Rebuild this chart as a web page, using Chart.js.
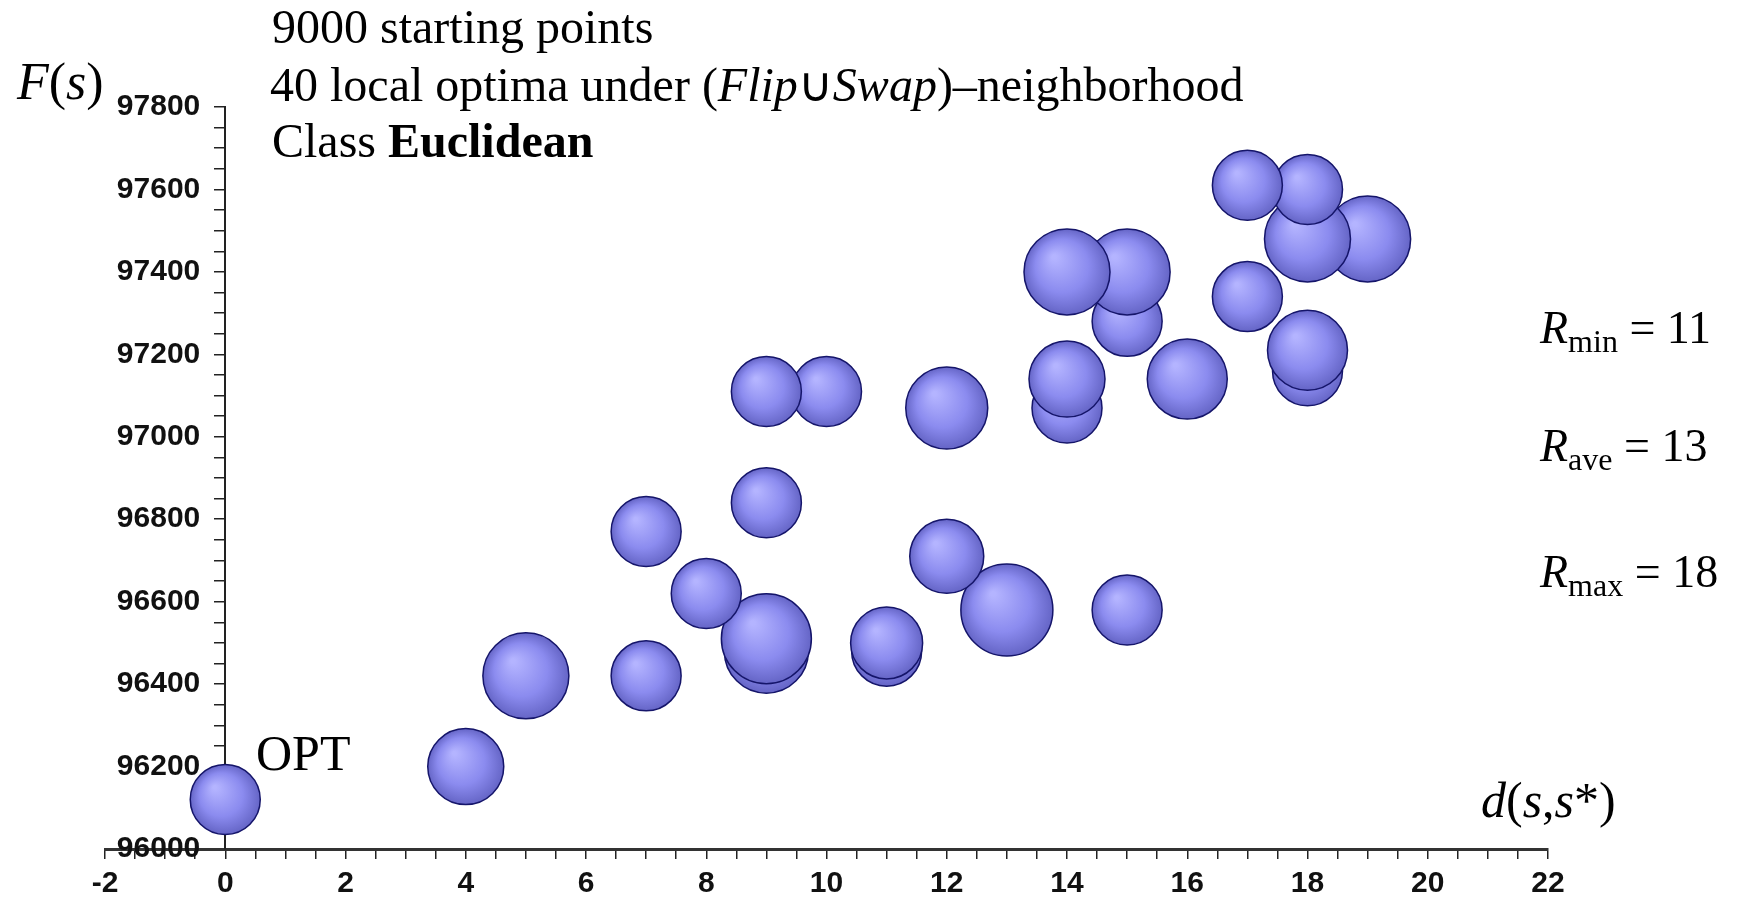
<!DOCTYPE html>
<html lang="en">
  <head>
    <meta charset="UTF-8" />
    <script src="https://cdn.jsdelivr.net/npm/chart.js@4.4.1/dist/chart.umd.min.js"></script>
    <style>
      html, body { margin: 0; padding: 0; background: #fff; }
      #wrap { width: 1762px; height: 902px; }
    </style>
  </head>
  <body>
    <div id="wrap"><canvas id="myChart"></canvas></div>

    <script>
      // local optima: distance to the optimum d(s,s*), objective F(s), bubble radius
      // (ordered so that the upper bubbles are painted over the lower ones)
      const distance = [0, 4, 7, 5, 11, 9, 11, 9, 15, 13, 8, 12, 7, 9, 14, 12, 10, 9, 16, 14,
        18, 18, 15, 17, 15, 14, 19, 18, 18, 17];
      const fValue = [96120, 96200, 96420, 96420, 96480, 96480, 96500, 96510, 96580, 96580,
        96620, 96710, 96770, 96840, 97070, 97070, 97110, 97110, 97140, 97140,
        97160, 97210, 97280, 97340, 97400, 97400, 97480, 97480, 97600, 97610];
      const bubbleRadius = [35, 38, 35, 43, 35, 42, 36, 45, 35, 46, 35, 37, 35, 35, 35, 41, 35, 35, 40, 38,
        35, 40, 35, 35, 43, 43, 43, 43, 35, 35];

      // labelled ticks
      const xTickLabels = [-2, 0, 2, 4, 6, 8, 10, 12, 14, 16, 18, 20, 22];
      const yTickLabels = [96000, 96200, 96400, 96600, 96800, 97000, 97200, 97400, 97600, 97800];

      const serif = '"Liberation Serif", "Times New Roman", serif';

      // radial shading so each bubble looks like a ball
      function ballFill(c) {
        const chart = c.chart;
        const raw = c.raw;
        if (!raw || !chart.chartArea) return "#8c8cf0";
        const cx = chart.scales.x.getPixelForValue(raw.x);
        const cy = chart.scales.y.getPixelForValue(raw.y);
        const r = raw.r;
        const g = chart.ctx.createRadialGradient(cx - r * 0.3, cy - r * 0.35, r * 0.05, cx, cy, r);
        g.addColorStop(0, "#b4b4ff");
        g.addColorStop(0.6, "#8b8bef");
        g.addColorStop(1, "#6565c6");
        return g;
      }

      // draws a line made of differently styled pieces
      function drawRuns(ctx, x, y, runs) {
        for (const [text, style, size, dy] of runs) {
          ctx.font = `${style} ${size}px ${serif}`;
          ctx.fillText(text, x, y + (dy || 0));
          x += ctx.measureText(text).width;
        }
      }

      const annotations = {
        id: "annotations",
        afterDraw(chart) {
          const ctx = chart.ctx;
          ctx.save();
          ctx.fillStyle = "#000";
          ctx.textBaseline = "alphabetic";
          ctx.textAlign = "left";
          drawRuns(ctx, 272, 43, [["9000 starting points", "normal", 48]]);
          drawRuns(ctx, 270, 101, [
            ["40 local optima under (", "normal", 48],
            ["Flip", "italic", 48],
            ["\u222A", "normal", 48],
            ["Swap", "italic", 48],
            [")\u2013neighborhood", "normal", 48],
          ]);
          drawRuns(ctx, 272, 157, [
            ["Class ", "normal", 48],
            ["Euclidean", "bold", 48],
          ]);
          drawRuns(ctx, 17, 99, [
            ["F", "italic", 52],
            ["(", "normal", 52],
            ["s", "italic", 52],
            [")", "normal", 52],
          ]);
          drawRuns(ctx, 256, 770, [["OPT", "normal", 50]]);
          drawRuns(ctx, 1481, 817, [
            ["d", "italic", 50],
            ["(", "normal", 50],
            ["s", "italic", 50],
            [",", "normal", 50],
            ["s", "italic", 50],
            ["*)", "normal", 50],
          ]);
          const stats = [["min", "11", 343], ["ave", "13", 461], ["max", "18", 587]];
          for (const [sub, val, y] of stats) {
            drawRuns(ctx, 1540, y, [
              ["R", "italic", 46],
              [sub, "normal", 32, 9],
              [" = " + val, "normal", 46],
            ]);
          }
          ctx.restore();
        },
      };

      const tickFont = { family: '"Liberation Sans", Arial, sans-serif', weight: "bold", size: 30 };

      const ctx = document.getElementById("myChart").getContext("2d");
      const myChart = new Chart(ctx, {
        type: "bubble",
        data: {
          datasets: [
            {
              data: distance.map((d, i) => ({ x: d, y: fValue[i], r: bubbleRadius[i] })),
              backgroundColor: ballFill,
              hoverBackgroundColor: ballFill,
              borderColor: "#15156a",
              hoverBorderColor: "#15156a",
              borderWidth: 1.5,
              hoverRadius: 0,
              hoverBorderWidth: 1.5,
              clip: false,
            },
          ],
        },
        options: {
          responsive: true,
          maintainAspectRatio: false,
          animation: false,
          layout: {
            padding: { top: 107, left: 105, right: 214, bottom: 0 },
          },
          plugins: {
            legend: { display: false },
            tooltip: { enabled: false },
          },
          scales: {
            x: {
              type: "linear",
              min: -2,
              max: 22,
              border: { display: true, color: "#333", width: 3 },
              grid: {
                drawOnChartArea: false,
                drawTicks: true,
                tickLength: 10,
                color: "#222",
                lineWidth: 1.5,
              },
              ticks: {
                stepSize: 0.5,
                maxTicksLimit: 100,
                autoSkip: false,
                maxRotation: 0,
                padding: 7,
                color: "#111",
                font: tickFont,
                callback: (v) => (xTickLabels.includes(v) ? String(v) : ""),
              },
              afterFit: (scale) => {
                scale.height = 53;
              },
            },
            y: {
              type: "linear",
              min: 96000,
              max: 97800,
              position: { x: 0 },
              border: { display: true, color: "#222", width: 2 },
              grid: {
                drawOnChartArea: false,
                drawTicks: true,
                tickLength: 10,
                color: "#222",
                lineWidth: 1.5,
              },
              ticks: {
                stepSize: 50,
                maxTicksLimit: 100,
                autoSkip: false,
                color: "#111",
                font: tickFont,
                // a value-positioned axis puts labels right at the line; trailing spaces leave a gap for the ticks
                callback: (v) => (yTickLabels.includes(v) ? v + "   " : ""),
              },
            },
          },
        },
        plugins: [annotations],
      });
    </script>
  </body>
</html>
